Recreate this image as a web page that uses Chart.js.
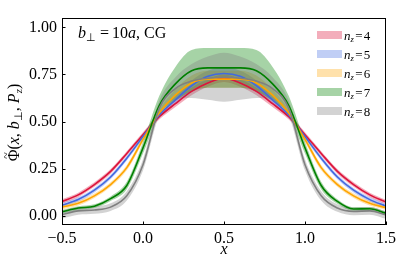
<!DOCTYPE html>
<html>
<head>
<meta charset="utf-8">
<script src="https://cdn.jsdelivr.net/npm/chart.js@4/dist/chart.umd.min.js"></script>
<style>
html,body{margin:0;padding:0;background:#fff;}
canvas{display:block;}
</style>
</head>
<body>
<canvas id="c" width="415" height="266"></canvas>
<script>
// ---- data ----
const xs = [-0.5,-0.4,-0.3,-0.2,-0.1,0.0,0.1,0.2,0.3,0.4,0.5,0.6,0.7,0.8,0.9,1.0,1.1,1.2,1.3,1.4,1.5];
const nzValues = [4,5,6,7,8];
const nz4 = [0.075,0.11,0.165,0.235,0.33,0.43,0.525,0.595,0.66,0.705,0.73,0.705,0.66,0.595,0.525,0.43,0.33,0.235,0.165,0.11,0.072];
const nz4Err = [0.012,0.012,0.012,0.012,0.012,0.013,0.015,0.018,0.02,0.02,0.02,0.02,0.02,0.018,0.015,0.013,0.012,0.012,0.012,0.012,0.012];
const nz5 = [0.055,0.085,0.135,0.205,0.305,0.42,0.535,0.615,0.69,0.74,0.755,0.74,0.69,0.615,0.535,0.42,0.305,0.205,0.135,0.085,0.05];
const nz5Err = [0.012,0.012,0.012,0.012,0.012,0.014,0.018,0.022,0.028,0.03,0.03,0.03,0.028,0.022,0.018,0.014,0.012,0.012,0.012,0.012,0.012];
const nz6 = [0.045,0.065,0.105,0.165,0.255,0.405,0.545,0.64,0.705,0.725,0.725,0.725,0.705,0.64,0.545,0.405,0.255,0.165,0.105,0.065,0.042];
const nz6Err = [0.012,0.012,0.012,0.012,0.014,0.016,0.02,0.03,0.04,0.045,0.045,0.045,0.04,0.03,0.02,0.016,0.014,0.012,0.012,0.012,0.012];
const nz7 = [0.02,0.04,0.05,0.09,0.16,0.36,0.585,0.70,0.77,0.785,0.785,0.785,0.77,0.70,0.585,0.36,0.16,0.075,0.035,0.036,0.012];
const nz7Err = [0.01,0.01,0.01,0.012,0.02,0.03,0.05,0.09,0.11,0.105,0.105,0.105,0.11,0.09,0.05,0.03,0.02,0.012,0.01,0.01,0.01];
const nz8 = [0.005,0.025,0.03,0.045,0.105,0.27,0.57,0.675,0.715,0.73,0.735,0.73,0.715,0.675,0.57,0.27,0.105,0.04,0.022,0.025,0.003];
const nz8Err = [0.02,0.02,0.02,0.02,0.025,0.03,0.04,0.06,0.09,0.115,0.13,0.115,0.09,0.06,0.04,0.03,0.025,0.02,0.02,0.02,0.02];
const xTicks = [-0.5,0.0,0.5,1.0,1.5];
const yTicks = [0.0,0.25,0.5,0.75,1.0];

const means = [nz4,nz5,nz6,nz7,nz8];
const errs = [nz4Err,nz5Err,nz6Err,nz7Err,nz8Err];
const lineColors = ['#dc143c','#4169e1','#ffa500','#008000','#808080'];
const bandColors = ['rgba(220,20,60,0.35)','rgba(65,105,225,0.33)','rgba(255,165,0,0.33)','rgba(0,128,0,0.35)','rgba(128,128,128,0.35)'];

const datasets = [];
means.forEach((m,i)=>{
  const e = errs[i];
  datasets.push({data: xs.map((x,k)=>({x, y:m[k]+e[k]})), fill:'+1', backgroundColor:bandColors[i], borderWidth:0, pointRadius:0, cubicInterpolationMode:'monotone', order:30-i});
  datasets.push({data: xs.map((x,k)=>({x, y:m[k]-e[k]})), fill:false, borderWidth:0, pointRadius:0, cubicInterpolationMode:'monotone', order:30-i});
});
means.forEach((m,i)=>{
  datasets.push({data: xs.map((x,k)=>({x, y:m[k]})), fill:false, borderColor:lineColors[i], borderWidth:1.6, pointRadius:0, cubicInterpolationMode:'monotone', order:10-i});
});

const SERIF = '"Liberation Serif", "Times New Roman", serif';

function drawRich(ctx, parts, x, y, measureOnly){
  let cx = x;
  parts.forEach(p=>{
    cx += (p.pre||0);
    ctx.font = (p.italic?'italic ':'') + p.size + 'px ' + SERIF;
    const w = ctx.measureText(p.t).width;
    if(!measureOnly) ctx.fillText(p.t, cx, y + (p.dy||0));
    cx += w + (p.post||0);
  });
  return cx - x;
}

const decor = {
  id:'decor',
  afterDraw(chart){
    const ctx = chart.ctx, a = chart.chartArea;
    const xs_ = chart.scales.x, ys_ = chart.scales.y;
    ctx.save();
    // frame
    ctx.strokeStyle = '#000'; ctx.lineWidth = 1;
    ctx.strokeRect(a.left+0.5, a.top+0.5, a.right-a.left-1, a.bottom-a.top-1);
    // inward ticks
    ctx.beginPath();
    xTicks.forEach(v=>{ const px = Math.round(xs_.getPixelForValue(v))+0.5; ctx.moveTo(px,a.bottom); ctx.lineTo(px,a.bottom-3.5); });
    yTicks.forEach(v=>{ const py = Math.round(ys_.getPixelForValue(v))+0.5; ctx.moveTo(a.left,py); ctx.lineTo(a.left+3.5,py); });
    ctx.stroke();
    ctx.fillStyle = '#000';
    ctx.textBaseline = 'alphabetic';
    ctx.textAlign = 'left';
    // annotation
    drawRich(ctx, [
      {t:'b', italic:true, size:16},
      {t:'\u22A5', size:11, dy:3},
      {t:'=', size:16, pre:4, post:3},
      {t:'10', size:16},
      {t:'a', italic:true, size:16},
      {t:', CG', size:16}
    ], 78, 38);
    // legend
    const rows = [35,54,73,92,111];
    nzValues.forEach((n,i)=>{
      const ry = rows[i];
      ctx.fillStyle = bandColors[i];
      ctx.fillRect(317, ry-4, 25, 8);
      ctx.fillStyle = '#000';
      drawRich(ctx, [
        {t:'n', italic:true, size:13},
        {t:'z', italic:true, size:8.5, dy:2.5},
        {t:'=', size:13, pre:1.5, post:1},
        {t:String(n), size:13}
      ], 344, ry+4.5);
    });
    // x label
    ctx.font = 'italic 16px ' + SERIF;
    ctx.textAlign = 'center';
    ctx.fillText('x', (a.left+a.right)/2, 254);
    // y label
    ctx.save();
    ctx.translate(19, (a.top+a.bottom)/2 + 1);
    ctx.rotate(-Math.PI/2);
    ctx.textAlign = 'left';
    const parts = [
      {t:'\u03A6', size:16},
      {t:'(', size:16},
      {t:'x', italic:true, size:16},
      {t:', ', size:16},
      {t:'b', italic:true, size:16},
      {t:'\u22A5', size:11, dy:3},
      {t:', ', size:16},
      {t:'P', italic:true, size:16},
      {t:'z', italic:true, size:11, dy:3},
      {t:')', size:16}
    ];
    const w = drawRich(ctx, parts, 0, 0, true);
    const x0 = -w/2;
    drawRich(ctx, parts, x0, 0);
    ctx.font = '16px ' + SERIF;
    const phiW = ctx.measureText('\u03A6').width;
    ctx.font = '12px ' + SERIF;
    ctx.textAlign = 'center';
    ctx.fillText('~', x0 + phiW/2, -9);
    ctx.restore();
    ctx.restore();
  }
};

new Chart(document.getElementById('c'), {
  type:'line',
  data:{datasets},
  options:{
    responsive:false,
    animation:false,
    devicePixelRatio:1,
    layout:{padding:{left:0, right:29, top:18, bottom:0}},
    plugins:{legend:{display:false}, tooltip:{enabled:false}},
    scales:{
      x:{
        type:'linear', min:-0.5, max:1.5,
        grid:{display:false, drawTicks:false},
        border:{display:false},
        afterBuildTicks: s => { s.ticks = xTicks.map(v=>({value:v})); },
        afterFit: s => { s.height = 41; },
        ticks:{padding:4, color:'#000', font:{family:SERIF, size:16}, maxRotation:0,
          callback: v => v.toFixed(1).replace('-', '\u2212')}
      },
      y:{
        type:'linear', min:-0.05, max:1.05,
        grid:{display:false, drawTicks:false},
        border:{display:false},
        afterBuildTicks: s => { s.ticks = yTicks.map(v=>({value:v})); },
        afterFit: s => { s.width = 62; },
        ticks:{padding:5, color:'#000', font:{family:SERIF, size:16},
          callback: v => v.toFixed(2)}
      }
    }
  },
  plugins:[decor]
});
</script>
</body>
</html>
